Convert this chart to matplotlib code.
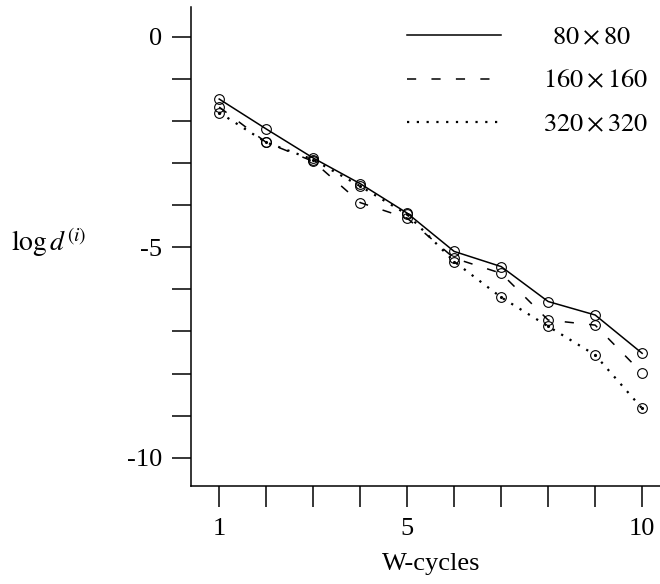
import matplotlib
matplotlib.use("Agg")
import matplotlib.pyplot as plt

# data
cycles = [1, 2, 3, 4, 5, 6, 7, 8, 9, 10]
grid_80 = [-1.48, -2.19, -2.88, -3.49, -4.19, -5.10, -5.46, -6.29, -6.61, -7.52]
grid_160 = [-1.67, -2.51, -2.96, -3.94, -4.31, -5.26, -5.62, -6.73, -6.85, -7.99]
grid_320 = [-1.80, -2.51, -2.92, -3.55, -4.22, -5.34, -6.19, -6.88, -7.56, -8.83]
labels = [r"$\enspace 80\times80$", r"$160\times160$", r"$320\times320$"]

xticks = list(range(1, 11))
xticklabels = ["1", "", "", "", "5", "", "", "", "", "10"]
yticks = list(range(-10, 1))
yticklabels = ["-10", "", "", "", "", "-5", "", "", "", "", "0"]

plt.rcParams['font.family'] = ['Liberation Serif', 'DejaVu Serif']
plt.rcParams['mathtext.fontset'] = 'stix'

fig = plt.figure(figsize=(6.6, 5.84), dpi=100)
ax = fig.add_axes([0.2894, 0.168, 0.7106, 0.8195])

# lines
ax.plot(cycles, grid_80, color='black', lw=1.1, label=labels[0])
ax.plot(cycles, grid_160, color='black', lw=1.1, dashes=(6, 10), label=labels[1])
ax.plot(cycles, grid_320, color='black', lw=1.6, dashes=(1, 3.4), label=labels[2])

# open circle markers
for ys in (grid_80, grid_160, grid_320):
    ax.plot(cycles, ys, 'o', ms=7, mfc='none', mec='black', mew=0.8)
ax.plot(cycles, grid_320, '.', ms=2.5, color='black')

ax.set_xlim(0.40, 10.38)
ax.set_ylim(-10.67, 0.70)
ax.set_xticks(xticks)
ax.set_xticklabels(xticklabels)
ax.set_yticks(yticks)
ax.set_yticklabels(yticklabels)

for s in ('top', 'right'):
    ax.spines[s].set_visible(False)
for s in ('left', 'bottom'):
    ax.spines[s].set_linewidth(1.1)

ax.tick_params(axis='y', direction='out', length=13.7, width=1.1, pad=7, labelsize=19)
ax.tick_params(axis='x', direction='out', length=15, width=1.1, pad=8, labelsize=19)

ax.set_xlabel('W-cycles', fontsize=19)
ax.xaxis.set_label_coords(0.512, -0.14)
ax.set_ylabel(r'$\log d^{(i)}$', rotation=0, fontsize=20, ha='left', va='center')
ax.yaxis.set_label_coords(-0.383, 0.51)

leg = ax.legend(loc='upper right', frameon=False, fontsize=19,
                handlelength=3.56, handletextpad=1.6, labelspacing=0.77,
                bbox_to_anchor=(1.0085, 0.995), borderaxespad=0.2)

fig.savefig('out.png', dpi=100)
